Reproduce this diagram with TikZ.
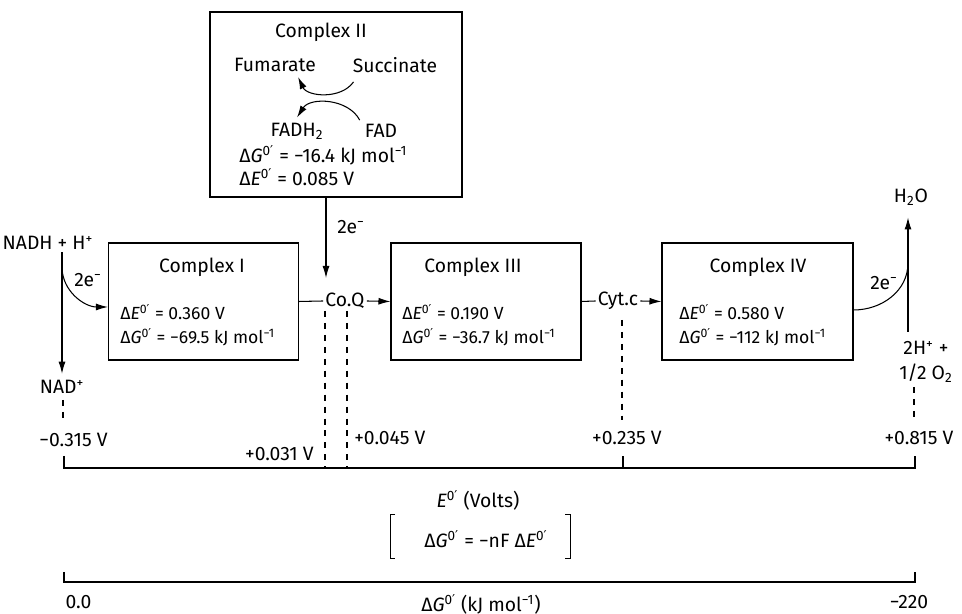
\documentclass[tikz,border=0pt]{standalone}
\usepackage{fontspec}
\setmainfont{Fira Sans}
\newfontfamily\primefont{DejaVu Sans}
\usetikzlibrary{arrows.meta}

\tikzset{
  cplx/.style={draw, line width=0.6pt, minimum width=3.8cm, minimum height=2.34cm},
  big/.style={font=\fontsize{11}{13}\selectfont, inner sep=1pt},
  small/.style={font=\fontsize{10}{12}\selectfont, inner sep=1pt},
  lvl/.style={dash pattern=on 3.4pt off 3.4pt},
}
\newcommand{\pr}{{\primefont ′}}
\newcommand{\dGo}{Δ\textit{G}\textsuperscript{0\pr}}
\newcommand{\dEo}{Δ\textit{E}\textsuperscript{0\pr}}

\begin{document}
\begin{tikzpicture}[line width=0.6pt, >={Latex[length=2.4mm,width=1.4mm]}]
  \useasboundingbox (0,0) rectangle (19.24,12.28);

  % complex II, on top
  \node[cplx, minimum width=5.04cm, minimum height=3.7cm] (cplx2) at (6.72,10.19) {};
  \node[big] (t2) at (6.42,11.64) {Complex II};
  \node[big] (fum) at (5.5,10.98) {Fumarate};
  \node[big] (succ) at (7.9,10.98) {Succinate};
  \node[big] (fadh) at (5.94,9.66) {FADH\textsubscript{2}};
  \node[big] (fad) at (7.62,9.66) {FAD};
  \node[big, anchor=west] (g2) at (4.74,9.18) {\dGo{} = −16.4 kJ mol\textsuperscript{−1}};
  \node[big, anchor=west] (e2) at (4.74,8.74) {\dEo{} = 0.085 V};
  \draw[->] ([shift={(0.06,-0.14)}]succ.south west) to[bend left=60] ([shift={(-0.4,-0.06)}]fum.south east);
  \draw[->] ([shift={(-0.06,0.04)}]fad.north west) to[bend right=60] ([yshift=0.06cm]fadh.north);

  % complexes I, III and IV
  \node[cplx] (cplx1) at (4.07,6.25) {};
  \node[big] (t1) at (4.04,6.94) {Complex I};
  \node[small, anchor=west] (e1) at (2.36,6.04) {\dEo{} = 0.360 V};
  \node[small, anchor=west] (g1) at (2.36,5.54) {\dGo{} = −69.5 kJ mol\textsuperscript{−1}};

  \node[cplx] (cplx3) at (9.72,6.25) {};
  \node[big] (t3) at (9.46,6.94) {Complex III};
  \node[small, anchor=west] (e3) at (8.0,6.04) {\dEo{} = 0.190 V};
  \node[small, anchor=west] (g3) at (8.0,5.54) {\dGo{} = −36.7 kJ mol\textsuperscript{−1}};

  \node[cplx, minimum width=3.82cm] (cplx4) at (15.15,6.25) {};
  \node[big] (t4) at (15.16,6.94) {Complex IV};
  \node[small, anchor=west] (e4) at (13.54,6.04) {\dEo{} = 0.580 V};
  \node[small, anchor=west] (g4) at (13.54,5.54) {\dGo{} = −112 kJ mol\textsuperscript{−1}};

  % carriers between the complexes
  \node[big] (coq) at (6.9,6.26) {Co.Q};
  \node[big] (cytc) at (12.36,6.26) {Cyt.c};
  \draw (cplx1.east) -- (coq.west);
  \draw[->] (coq.east) -- (cplx3.west);
  \draw (cplx3.east) -- (cytc.west);
  \draw[->] (cytc.east) -- (cplx4.west);

  \coordinate (qtop) at (6.52,6.72);
  \draw[->] (cplx2.south -| qtop) -- (qtop);
  \node[big] (ee2) at (7.02,7.74) {2e\textsuperscript{−}};

  % NADH in
  \node[big] (nadh) at (0.96,7.42) {NADH + H\textsuperscript{+}};
  \node[big] (nad) at (1.24,4.54) {NAD\textsuperscript{+}};
  \coordinate (nsplit) at (1.24,6.94);
  \draw[->] (nadh.south -| nad) -- ([yshift=0.08cm]nad.north);
  \draw[->] (nsplit) to[out=-90,in=180] ([yshift=-0.11cm]cplx1.west);
  \node[big] (ee1) at (1.76,6.68) {2e\textsuperscript{−}};

  % oxygen out
  \node[big] (h2o) at (18.22,8.34) {H\textsubscript{2}O};
  \node[big] (o2a) at (18.52,5.32) {2H\textsuperscript{+} +};
  \node[big] (o2b) at (18.52,4.82) {1/2 O\textsubscript{2}};
  \coordinate (osplit) at (18.16,7.02);
  \draw[->] (18.16,5.64) -- ([yshift=-0.2cm]h2o.south -| osplit);
  \draw ([yshift=-0.17cm]cplx4.east) to[out=0,in=-90] (osplit);
  \node[big] (ee4) at (17.68,6.62) {2e\textsuperscript{−}};

  % E0' scale
  \node[big] (v1) at (1.47,3.48) {−0.315 V};
  \node[big, anchor=east] (v2) at (6.32,3.2) {+0.031 V};
  \node[big, anchor=west] (v3) at (7.04,3.52) {+0.045 V};
  \node[big] (v4) at (12.54,3.52) {+0.235 V};
  \node[big] (v5) at (18.38,3.52) {+0.815 V};
  \draw[lvl] (1.26,4.28) -- (1.26,3.88);
  \draw[lvl] (6.5,6.06) -- (6.5,2.92);
  \draw[lvl] (6.94,6.06) -- (6.94,2.92);
  \draw[lvl] (12.44,5.88) -- (12.44,3.88);
  \draw[lvl] (18.28,4.54) -- (18.28,3.88);
  \draw (1.28,3.16) -- (1.28,2.92) -- (18.3,2.92) -- (18.3,3.16);
  \draw (12.46,2.92) -- (12.46,3.16);
  \node[big] (eaxis) at (9.56,2.28) {\textit{E}\textsuperscript{0\pr} (Volts)};

  \draw[line width=0.5pt] (7.9,2.0) -- (7.8,2.0) -- (7.8,1.12) -- (7.9,1.12);
  \draw[line width=0.5pt] (11.3,2.0) -- (11.4,2.0) -- (11.4,1.12) -- (11.3,1.12);
  \node[big] (rel) at (9.72,1.5) {\dGo{} = −nF \dEo};

  % dG0' scale
  \draw (1.28,0.84) -- (1.28,0.64) -- (18.3,0.64) -- (18.3,0.84);
  \node[big] (g0) at (1.57,0.24) {0.0};
  \node[big] (gaxis) at (9.62,0.2) {\dGo{} (kJ mol\textsuperscript{−1})};
  \node[big] (g220) at (18.18,0.24) {−220};
\end{tikzpicture}
\end{document}
